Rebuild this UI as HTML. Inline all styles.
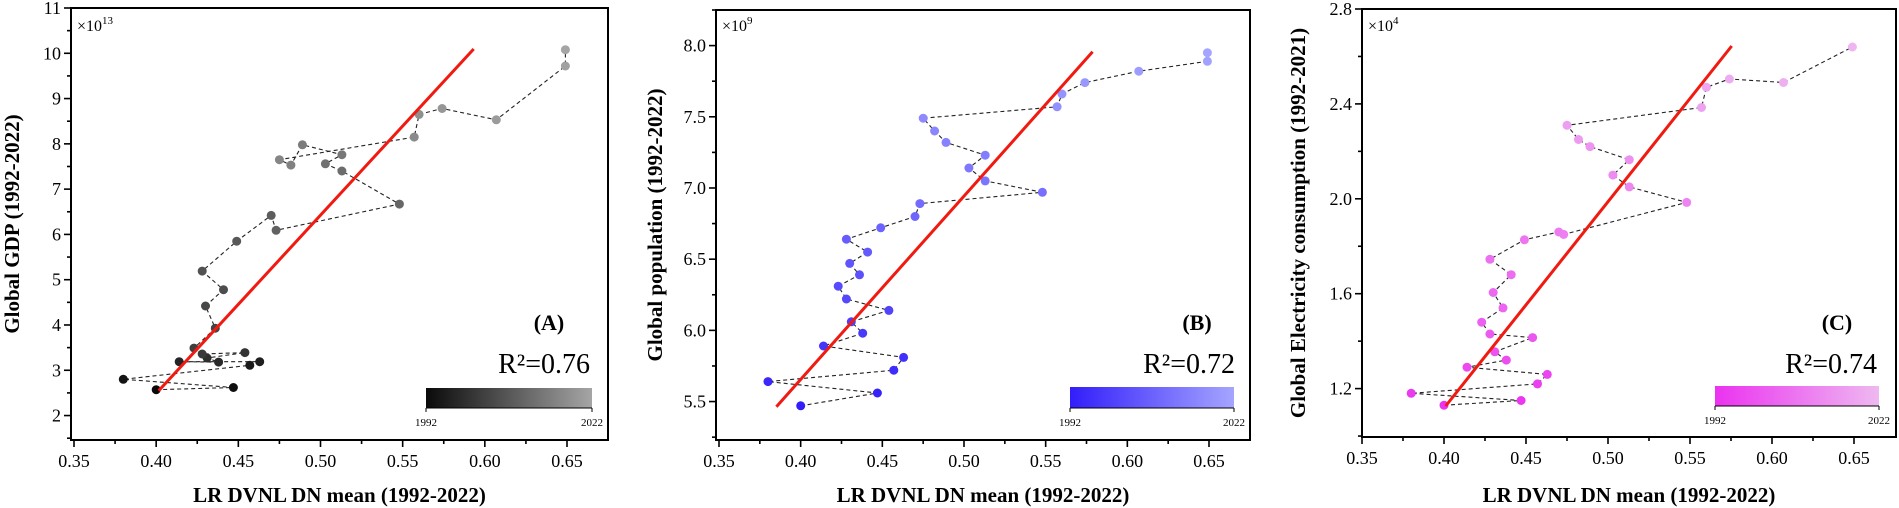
<!DOCTYPE html>
<html><head><meta charset="utf-8"><style>
html,body{margin:0;padding:0;background:#fff;}
svg{display:block;}
text{font-family:"Liberation Serif","DejaVu Serif",serif;}
</style></head><body>
<svg id="s" width="1899" height="508" viewBox="0 0 1899 508" xmlns="http://www.w3.org/2000/svg" font-family="Liberation Serif, serif"></svg>
<script>
const xs=[0.400,0.447,0.380,0.457,0.463,0.414,0.438,0.431,0.454,0.428,0.423,0.436,0.430,0.441,0.428,0.449,0.470,0.473,0.548,0.513,0.503,0.513,0.489,0.482,0.475,0.557,0.560,0.574,0.607,0.649,0.649];
const gdp=[2.57,2.62,2.80,3.11,3.19,3.19,3.18,3.27,3.39,3.36,3.49,3.93,4.42,4.78,5.19,5.85,6.42,6.09,6.67,7.40,7.56,7.76,7.98,7.53,7.65,8.15,8.65,8.78,8.53,9.72,10.08];
const pop=[5.47,5.56,5.64,5.72,5.81,5.89,5.98,6.06,6.14,6.22,6.31,6.39,6.47,6.55,6.64,6.72,6.80,6.89,6.97,7.05,7.14,7.23,7.32,7.40,7.49,7.57,7.66,7.74,7.82,7.89,7.95];
const ele=[1.13,1.15,1.18,1.22,1.26,1.29,1.32,1.355,1.415,1.43,1.48,1.54,1.605,1.68,1.745,1.827,1.86,1.85,1.985,2.05,2.10,2.165,2.22,2.25,2.31,2.385,2.47,2.505,2.49,2.64];
const P=[
 {L:71,R:608,T:8,B:440,x35:74,x65:567,ymin:1.46,ymax:11,ys:gdp,yt:[2,3,4,5,6,7,8,9,10,11],ytl:v=>String(v),ym:0.5,
  c0:[10,10,10],c1:[165,165,165],mult:"13",title:"Global GDP (1992-2022)",tx:12,lab:"(A)",labx:549,r2:"R²=0.76",r2x:590,
  cb:[426,388,592,408],line:[158.7,390.7,473.7,49]},
 {L:716,R:1250,T:10,B:440,x35:719,x65:1209,ymin:5.23,ymax:8.25,ys:pop,yt:[5.5,6,6.5,7,7.5,8],ytl:v=>v.toFixed(1),ym:0.25,
  c0:[50,30,250],c1:[165,165,255],mult:"9",title:"Global population (1992-2022)",tx:655,lab:"(B)",labx:1197,r2:"R²=0.72",r2x:1235,
  cb:[1070,387,1234,408],line:[776.4,406.7,1092.6,51.7]},
 {L:1362,R:1896,T:9,B:437,x35:1362,x65:1854,ymin:0.996,ymax:2.8,ys:ele,yt:[1.2,1.6,2.0,2.4,2.8],ytl:v=>v.toFixed(1),ym:0.2,
  c0:[235,50,240],c1:[238,185,240],mult:"4",title:"Global Electricity consumption (1992-2021)",tx:1298,lab:"(C)",labx:1837,r2:"R²=0.74",r2x:1877,
  cb:[1715,386,1879,406],line:[1445.7,406,1731.7,46]}
];
const F='font-family="Liberation Serif, serif"';
let h='<defs>';
P.forEach((p,i)=>{h+=`<linearGradient id="g${i}" x1="0" x2="1" y1="0" y2="0"><stop offset="0" stop-color="rgb(${p.c0})"/><stop offset="1" stop-color="rgb(${p.c1})"/></linearGradient>`;});
h+='</defs>';
P.forEach((p,i)=>{
 const X=v=>p.x35+(v-0.35)/0.3*(p.x65-p.x35);
 const Y=v=>p.B-(v-p.ymin)/(p.ymax-p.ymin)*(p.B-p.T);
 for(let k=0;k<=12;k++){const v=0.35+k*0.025;const x=X(v);if(x>p.R+1)break;const maj=k%2==0;
  h+=`<line x1="${x}" y1="${p.B}" x2="${x}" y2="${p.B+(maj?7:4)}" stroke="#000" stroke-width="1.6"/>`;
  if(maj)h+=`<text ${F} x="${x}" y="${p.B+27}" font-size="18" text-anchor="middle">${v.toFixed(2)}</text>`;}
 let start=Math.ceil(p.ymin/p.ym-1e-6)*p.ym;
 for(let v=start;v<=p.ymax+1e-6;v+=p.ym){const y=Y(v);const maj=p.yt.some(t=>Math.abs(t-v)<1e-6);
  h+=`<line x1="${p.L}" y1="${y}" x2="${p.L-(maj?7:4)}" y2="${y}" stroke="#000" stroke-width="1.6"/>`;
  if(maj)h+=`<text ${F} x="${p.L-10}" y="${y+6}" font-size="18" text-anchor="end">${p.ytl(+v.toFixed(2))}</text>`;}
 h+=`<rect x="${p.L}" y="${p.T}" width="${p.R-p.L}" height="${p.B-p.T}" fill="none" stroke="#000" stroke-width="2"/>`;
 let d='';p.ys.forEach((v,j)=>{d+=(j?'L':'M')+X(xs[j]).toFixed(1)+','+Y(v).toFixed(1);});
 h+=`<path d="${d}" fill="none" stroke="#222" stroke-width="1.1" stroke-dasharray="4,3"/>`;
 p.ys.forEach((v,j)=>{const t=j/30;const c=p.c0.map((a,k)=>Math.round(a+(p.c1[k]-a)*t));
  h+=`<circle cx="${X(xs[j]).toFixed(1)}" cy="${Y(v).toFixed(1)}" r="4.5" fill="rgb(${c})"/>`;});
 const l=p.line;
 h+=`<line x1="${l[0]}" y1="${l[1]}" x2="${l[2]}" y2="${l[3]}" stroke="#f01a10" stroke-width="3"/>`;
 h+=`<text ${F} x="${p.L+6}" y="31" font-size="16">×10<tspan dy="-7" font-size="11">${p.mult}</tspan></text>`;
 h+=`<text ${F} x="${p.labx}" y="330" font-size="22" font-weight="bold" text-anchor="middle">${p.lab}</text>`;
 h+=`<text ${F} x="${p.r2x}" y="373" font-size="28" text-anchor="end">${p.r2}</text>`;
 const c=p.cb;
 h+=`<rect x="${c[0]}" y="${c[1]}" width="${c[2]-c[0]}" height="${c[3]-c[1]}" fill="url(#g${i})"/>`;
 h+=`<line x1="${c[0]}" y1="${c[3]}" x2="${c[2]}" y2="${c[3]}" stroke="#000" stroke-width="1"/><line x1="${c[0]}" y1="${c[3]}" x2="${c[0]}" y2="${c[3]+4}" stroke="#000"/><line x1="${c[2]}" y1="${c[3]}" x2="${c[2]}" y2="${c[3]+4}" stroke="#000"/>`;
 h+=`<text ${F} x="${c[0]}" y="${c[3]+18}" font-size="11" text-anchor="middle">1992</text><text ${F} x="${c[2]}" y="${c[3]+18}" font-size="11" text-anchor="middle">2022</text>`;
 h+=`<text ${F} x="${(p.L+p.R)/2}" y="502" font-size="21" font-weight="bold" text-anchor="middle">LR DVNL DN mean (1992-2022)</text>`;
 const cy=(p.T+p.B)/2;
 h+=`<text ${F} transform="translate(${p.tx+7},${cy}) rotate(-90)" font-size="21" font-weight="bold" text-anchor="middle">${p.title}</text>`;
});
document.getElementById('s').innerHTML=h;
</script>
</body></html>
